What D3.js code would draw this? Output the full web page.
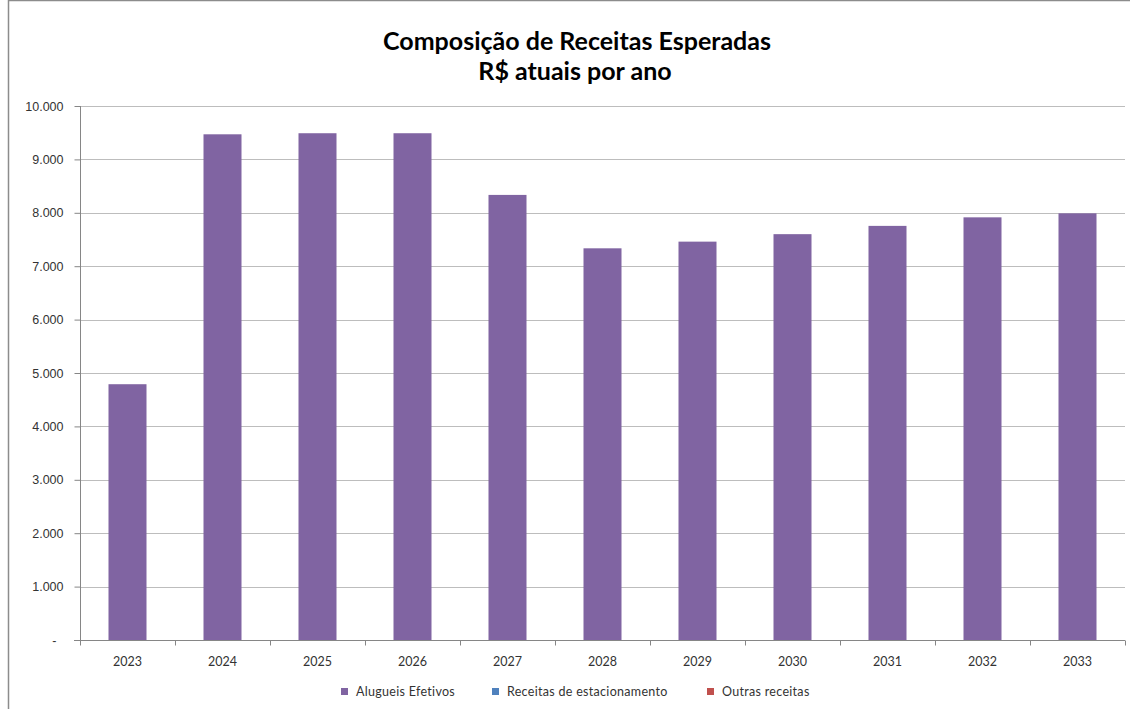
<!DOCTYPE html>
<html>
<head>
<meta charset="utf-8">
<script src="https://cdn.jsdelivr.net/npm/d3@7"></script>
<style>
  body { margin: 0; background: #fff; }
  svg { display: block; font-family: Lato, "Open Sans", sans-serif; }
</style>
</head>
<body>
<div id="chart"></div>
<script>
'use strict';

var anos = ['2023', '2024', '2025', '2026', '2027', '2028', '2029', '2030', '2031', '2032', '2033'];
var alugueis = [4790, 9470, 9490, 9490, 8335, 7335, 7460, 7600, 7755, 7915, 7990];
var yTicks = [0, 1000, 2000, 3000, 4000, 5000, 6000, 7000, 8000, 9000, 10000];
var legendaNomes = ['Alugueis Efetivos', 'Receitas de estacionamento', 'Outras receitas'];
var legendaCores = ['#8064A2', '#4F81BD', '#C0504D'];

var W = 1130, H = 709;
var margins = {top: 106, left: 80, right: 5, bottom: 69};
var cw = W - margins.left - margins.right;
var ch = H - margins.top - margins.bottom;

var svg = d3.select('#chart').append('svg')
    .attr('width', W)
    .attr('height', H);

// moldura
svg.append('path')
    .attr('d', 'M8.5,' + H + 'V0.5H' + W)
    .attr('fill', 'none')
    .attr('stroke', '#8c8c8c')
    .attr('stroke-width', 1.5);

// titulo
var title = svg.append('text')
    .attr('x', 577)
    .attr('text-anchor', 'middle')
    .style('font-weight', 'bold')
    .style('font-size', '25px')
    .style('fill', '#000');
title.append('tspan').attr('x', 577).attr('y', 50).text('Composição de Receitas Esperadas');
title.append('tspan').attr('x', 575).attr('y', 80).text('R$ atuais por ano');

var chart = svg.append('g')
    .attr('transform', 'translate(' + margins.left + ',' + margins.top + ')');

var xScale = d3.scaleBand().domain(anos).range([0, cw]).paddingInner(0.6).paddingOuter(0.3);
var yScale = d3.scaleLinear().domain([0, 10000]).range([ch, 0]);

// grade
chart.append('g')
    .selectAll('line')
    .data(yTicks.slice(1))
    .enter()
    .append('line')
    .attr('x1', 0)
    .attr('x2', cw)
    .attr('y1', function(d){ return Math.round(yScale(d)) + 0.5; })
    .attr('y2', function(d){ return Math.round(yScale(d)) + 0.5; })
    .style('stroke', '#bdbdbd')
    .style('stroke-width', 1);

// barras
chart.append('g')
    .selectAll('rect')
    .data(anos.map(function(a, i){ return {ano: a, v: alugueis[i]}; }))
    .enter()
    .append('rect')
    .attr('x', function(d){ return xScale(d.ano); })
    .attr('y', function(d){ return yScale(d.v); })
    .attr('width', xScale.bandwidth())
    .attr('height', function(d){ return ch - yScale(d.v); })
    .style('fill', '#8064A2');

var fmt = function(d){ return d === 0 ? '-' : d3.format(',')(d).replace(/,/g, '.'); };

// eixo y
var yAxis = d3.axisLeft(yScale).tickValues(yTicks).tickSize(6).tickPadding(10).tickFormat(fmt);
var yg = chart.append('g').attr('transform', 'translate(0.5,0)').call(yAxis);
yg.select('.domain').attr('d', 'M0,0V' + ch).style('stroke', '#868686');
yg.selectAll('.tick line').style('stroke', '#868686');
yg.selectAll('.tick text').style('font-size', '12.5px').style('fill', '#333')
    .attr('x', function(d){ return d === 0 ? -24 : -17; });

// eixo x (marcas nas divisas das categorias)
var xg = chart.append('g').attr('transform', 'translate(0,' + (Math.round(ch) + 0.5) + ')');
xg.append('line').attr('x1', -6).attr('x2', cw).style('stroke', '#868686');
var step = xScale.step();
xg.selectAll('.marca')
    .data(d3.range(anos.length + 1))
    .enter()
    .append('line')
    .attr('class', 'marca')
    .attr('x1', function(i){ return Math.round(i * step) + 0.5; })
    .attr('x2', function(i){ return Math.round(i * step) + 0.5; })
    .attr('y1', 0)
    .attr('y2', 5)
    .style('stroke', '#868686');
xg.selectAll('.rotulo')
    .data(anos)
    .enter()
    .append('text')
    .attr('class', 'rotulo')
    .attr('x', function(d){ return xScale(d) + xScale.bandwidth() / 2; })
    .attr('y', 25)
    .attr('text-anchor', 'middle')
    .style('font-size', '12.5px')
    .style('fill', '#333')
    .text(function(d){ return d; });

// legenda
var legX = [341, 492, 707];
var leg = svg.append('g').attr('transform', 'translate(0,692)');
var item = leg.selectAll('g')
    .data(legendaNomes)
    .enter()
    .append('g')
    .attr('transform', function(d, i){ return 'translate(' + legX[i] + ',0)'; });
item.append('rect')
    .attr('x', 0).attr('y', -4)
    .attr('width', 7).attr('height', 7)
    .style('fill', function(d, i){ return legendaCores[i]; });
item.append('text')
    .attr('x', 15)
    .attr('y', 4)
    .style('font-size', '12.5px')
    .style('letter-spacing', '0.3px')
    .style('fill', '#333')
    .text(function(d){ return d; });
</script>
</body>
</html>
